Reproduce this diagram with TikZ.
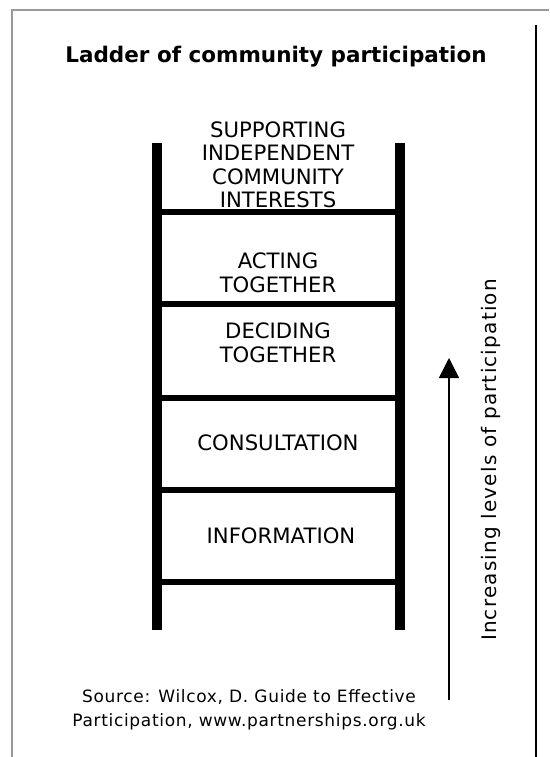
\documentclass[tikz,border=0pt]{standalone}
\usepackage{fontspec}
\setmainfont{DejaVu Sans}
\usetikzlibrary{arrows.meta}
\begin{document}
\begin{tikzpicture}[x=1pt,y=-1pt,
  frame/.style={draw=black!40,line width=2pt},
  rail/.style={line width=10pt},
  rung/.style={line width=6pt},
  rungtext/.style={align=center,font=\fontsize{21.2}{23.5}\selectfont,inner sep=0pt},
  titletext/.style={font=\bfseries\fontsize{21.5}{23}\selectfont,inner sep=0pt},
  sidetext/.style={font=\fontsize{20}{20}\selectfont\addfontfeature{LetterSpace=6},inner sep=0pt,rotate=90},
  srctext/.style={align=center,font=\fontsize{17}{24}\selectfont\addfontfeature{LetterSpace=4},inner sep=0pt}]
\useasboundingbox (0,0) rectangle (549,757);
\fill[white] (0,0) rectangle (549,757);
% frame
\coordinate (ftl) at (12,10);
\coordinate (fbl) at (12,757);
\coordinate (ftr) at (549,10);
\draw[frame] (fbl) -- (ftl) -- (ftr);
\coordinate (rt) at (536,25);
\coordinate (rb) at (536,757);
\draw[line width=1.5pt] (rt) -- (rb);
% title
\node[titletext] (title) at (276,57) {Ladder of community participation};
% ladder rails
\coordinate (lt) at (157,143);
\coordinate (lb) at (157,630);
\coordinate (rtt) at (400,143);
\coordinate (rbb) at (400,630);
\draw[rail] (lt) -- (lb);
\draw[rail] (rtt) -- (rbb);
% rungs
\foreach \y/\n in {212/r1,304/r2,398/r3,490/r4,582/r5}{
  \coordinate (\n l) at (157,\y);
  \coordinate (\n r) at (400,\y);
  \draw[rung] (\n l) -- (\n r);
}
% labels
\node[rungtext] (supp) at (278,165) {SUPPORTING\\INDEPENDENT\\COMMUNITY\\INTERESTS};
\node[rungtext] (act) at (278,273) {ACTING\\TOGETHER};
\node[rungtext] (dec) at (278,343) {DECIDING\\TOGETHER};
\node[rungtext] (cons) at (278,443) {CONSULTATION};
\node[rungtext] (info) at (281,536) {INFORMATION};
% arrow
\coordinate (abot) at (449,700);
\coordinate (atop) at (449,358);
\draw[line width=1.5pt,-{Triangle[length=20pt,width=20pt]}] (abot) -- (atop);
\node[sidetext] (side) at (491,460) {Increasing levels of participation};
% source
\node[srctext] (src) at (249,710) {Source: Wilcox, D. Guide to Effective\\Participation, www.partnerships.org.uk};
\end{tikzpicture}
\end{document}
